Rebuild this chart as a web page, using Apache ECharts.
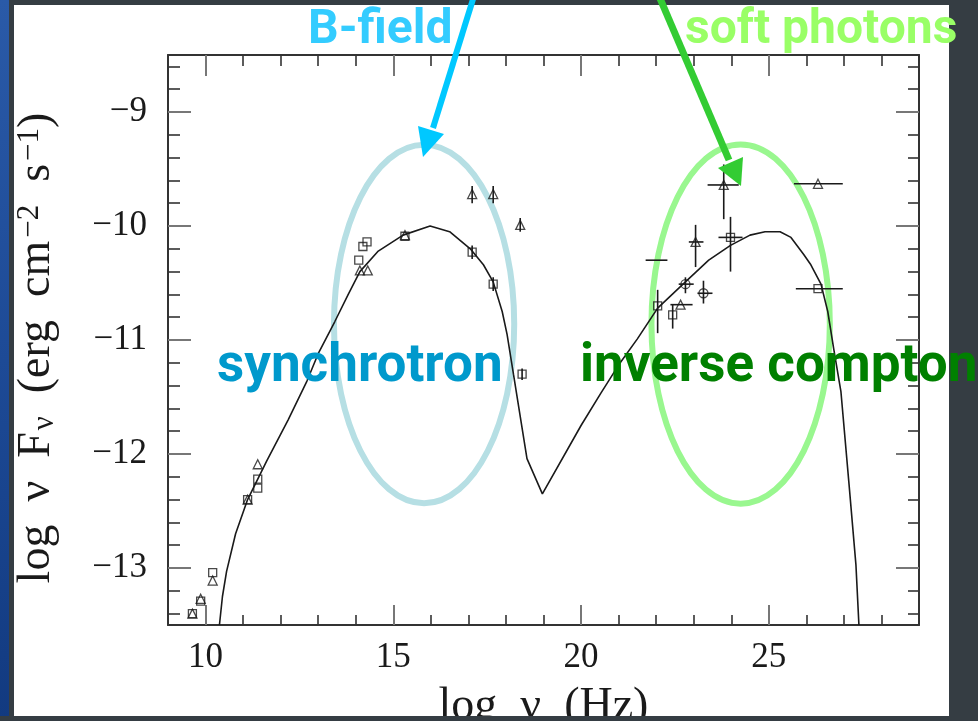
<!DOCTYPE html>
<html><head><meta charset="utf-8">
<script src="https://cdn.jsdelivr.net/npm/echarts@6/dist/echarts.min.js"></script>
<style>
html,body{margin:0;padding:0;width:978px;height:721px;overflow:hidden;background:#353d43;}
#blue{position:absolute;left:0;top:0;width:9px;height:721px;background:linear-gradient(#2a5aa8,#1d4a96 50%,#123a80);}
#panel{position:absolute;left:14px;top:5px;width:935px;height:711px;background:#fff;}
#chart{position:absolute;left:0;top:0;width:978px;height:721px;}
#bottom{position:absolute;left:0;top:716px;width:978px;height:5px;background:#353d43;}
</style></head><body>
<div id="blue"></div><div id="panel"></div><div id="chart"></div><div id="bottom"></div>
<script>
// ---- data ----
var xMajorTicks = [10, 15, 20, 25];
var xMinorTicks = [11, 12, 13, 14, 16, 17, 18, 19, 21, 22, 23, 24, 26, 27, 28];
var yMajorTicks = [-13, -12, -11, -10, -9];
var yMinorTicks = [-13.4, -13.2, -12.8, -12.6, -12.4, -12.2, -11.8, -11.6, -11.4, -11.2,
                   -10.8, -10.6, -10.4, -10.2, -9.8, -9.6, -9.4, -9.2, -8.8, -8.6];

var modelCurve = [
  [10.37, -13.5], [10.45, -13.25], [10.56, -13.03], [10.8, -12.7], [11.12, -12.4],
  [11.63, -12.06], [12.2, -11.7], [12.7, -11.36], [13.0, -11.12], [13.44, -10.84],
  [13.8, -10.6], [14.11, -10.4], [14.6, -10.22], [15.26, -10.08], [15.98, -10.0],
  [16.5, -10.05], [17.05, -10.2], [17.4, -10.34], [17.66, -10.49], [17.9, -10.75],
  [18.03, -10.95], [18.2, -11.3], [18.56, -12.04], [18.97, -12.35], [20.0, -11.75],
  [20.52, -11.47], [21.0, -11.22], [21.5, -10.99], [22.04, -10.72], [22.78, -10.49],
  [23.4, -10.3], [23.98, -10.17], [24.5, -10.08], [24.9, -10.05], [25.3, -10.05],
  [25.59, -10.1], [25.93, -10.25], [26.12, -10.34], [26.39, -10.51], [26.57, -10.75],
  [26.73, -11.08], [26.92, -11.45], [27.13, -12.24], [27.32, -12.97], [27.4, -13.5]
];

var squarePts = [
  [9.65, -13.4], [9.87, -13.29], [10.19, -13.04], [11.12, -12.4], [11.39, -12.22], [11.39, -12.3],
  [14.3, -10.14], [14.19, -10.18], [14.08, -10.3], [15.31, -10.09], [17.1, -10.23], [17.66, -10.51],
  [18.43, -11.3], [22.04, -10.7], [22.44, -10.78], [23.98, -10.1], [26.31, -10.55]
];
var trianglePts = [
  [9.65, -13.4], [9.87, -13.27], [10.19, -13.11], [11.12, -12.4], [11.39, -12.09],
  [14.11, -10.39], [14.32, -10.39], [15.31, -10.08], [17.1, -9.72], [17.66, -9.72], [18.38, -9.99],
  [22.65, -10.69], [23.05, -10.14], [23.8, -9.64], [26.31, -9.63]
];
var circlePts = [[22.78, -10.51], [23.26, -10.59]];

// [x, y, xLow, xHigh]
var errX = [
  [22.04, -10.3, 21.72, 22.3], [22.65, -10.69, 22.38, 22.97], [22.78, -10.51, 22.6, 23.0],
  [23.26, -10.59, 23.1, 23.5], [23.05, -10.14, 22.87, 23.26], [23.8, -9.64, 23.37, 24.2],
  [23.98, -10.1, 23.66, 24.3], [26.31, -9.63, 25.67, 26.97], [26.31, -10.55, 25.72, 26.97]
];
// [x, y, yLow, yHigh]
var errY = [
  [17.1, -10.23, -10.29, -10.17], [17.66, -10.51, -10.57, -10.45], [18.43, -11.3, -11.35, -11.25],
  [17.1, -9.72, -9.8, -9.65], [17.66, -9.72, -9.8, -9.65], [18.38, -9.99, -10.05, -9.93],
  [22.04, -10.7, -10.94, -10.56], [22.44, -10.78, -10.9, -10.69], [22.78, -10.51, -10.59, -10.45],
  [23.26, -10.59, -10.68, -10.48], [23.05, -10.14, -10.36, -9.99], [23.8, -9.64, -9.94, -9.46],
  [23.98, -10.1, -10.4, -9.92]
];
// [cx, cy, rx, ry] in data units
var regionEllipses = [
  [15.82, -10.86, 2.40, 1.572, '#b6dfe4'],
  [24.25, -10.86, 2.375, 1.576, '#99f78f']
];

var SERIF = '"Liberation Serif", "Times New Roman", serif';
var INK = '#1a1a1a';

function fmt(v) { return String(v).replace('-', '\u2212'); }

function xAx(pos, ticks, len, major, extra) {
  var a = {
    type: 'value', min: 9, max: 29, position: pos, gridIndex: 0,
    axisLine: { show: major, onZero: false, lineStyle: { color: '#333', width: 2 } },
    axisTick: { show: true, inside: true, length: len, customValues: ticks,
      lineStyle: { color: major ? '#777' : '#333', width: major ? 2 : 1.6 } },
    axisLabel: { show: false },
    splitLine: { show: false }
  };
  for (var k in extra) a[k] = extra[k];
  return a;
}
function yAx(pos, ticks, len, major, extra) {
  var a = {
    type: 'value', min: -13.5, max: -8.5, position: pos, gridIndex: 0,
    axisLine: { show: major, onZero: false, lineStyle: { color: '#333', width: 2 } },
    axisTick: { show: true, inside: true, length: len, customValues: ticks,
      lineStyle: { color: major ? '#777' : '#333', width: major ? 2 : 1.6 } },
    axisLabel: { show: false },
    splitLine: { show: false }
  };
  for (var k in extra) a[k] = extra[k];
  return a;
}

var chart = echarts.init(document.getElementById('chart'), null, { renderer: 'canvas' });

var option = {
  backgroundColor: 'transparent',
  animation: false,
  grid: { left: 168, top: 55, right: 59, bottom: 96, containLabel: false, outerBoundsMode: 'none' },
  xAxis: [
    xAx('bottom', xMajorTicks, 20, true, {
      axisLabel: { show: true, customValues: xMajorTicks, margin: 15, fontFamily: SERIF, fontSize: 35, color: INK, formatter: fmt },
      name: 'log  ν  (Hz)', nameLocation: 'middle', nameGap: 59,
      nameTextStyle: { fontFamily: SERIF, fontSize: 46, color: INK }
    }),
    xAx('bottom', xMinorTicks, 10, false, {}),
    xAx('top', xMajorTicks, 21, true, {}),
    xAx('top', xMinorTicks, 11, false, {})
  ],
  yAxis: [
    yAx('left', yMajorTicks, 23, true, {
      axisLabel: { show: true, customValues: yMajorTicks, margin: 21, fontFamily: SERIF, fontSize: 35, color: INK, formatter: fmt },
      name: '{t|log  ν  F}{s|ν}{t|  (erg  cm}{p|−2}{t|  s}{p|−1}{t|)}',
      nameLocation: 'middle', nameRotate: 90, nameGap: 108,
      nameTextStyle: {
        fontFamily: SERIF, fontSize: 46, color: INK, padding: [0, 16, 0, 0],
        rich: {
          t: { fontFamily: SERIF, fontSize: 46, color: INK },
          s: { fontFamily: SERIF, fontSize: 31, color: INK, verticalAlign: 'bottom', padding: [15, 0, 0, 2] },
          p: { fontFamily: SERIF, fontSize: 31, color: INK, verticalAlign: 'top', padding: [0, 0, 15, 3] }
        }
      }
    }),
    yAx('left', yMinorTicks, 12, false, {}),
    yAx('right', yMajorTicks, 23, true, {}),
    yAx('right', yMinorTicks, 11, false, {})
  ],
  series: [
    {
      name: 'regions', type: 'custom', coordinateSystem: 'cartesian2d', z: 1, clip: false,
      data: regionEllipses,
      renderItem: function (params, api) {
        var c = api.coord([api.value(0), api.value(1)]);
        var s = api.size([api.value(2), api.value(3)]);
        return { type: 'ellipse', shape: { cx: c[0], cy: c[1], rx: s[0], ry: s[1] },
          style: { fill: 'none', stroke: regionEllipses[params.dataIndex][4], lineWidth: 6 } };
      }
    },
    {
      name: 'model', type: 'line', data: modelCurve, symbol: 'none', z: 3,
      lineStyle: { color: INK, width: 1.6 }
    },
    {
      name: 'xerr', type: 'custom', coordinateSystem: 'cartesian2d', z: 4, data: errX,
      renderItem: function (params, api) {
        var a = api.coord([api.value(2), api.value(1)]);
        var b = api.coord([api.value(3), api.value(1)]);
        return { type: 'line', shape: { x1: a[0], y1: a[1], x2: b[0], y2: b[1] }, style: { stroke: INK, lineWidth: 1.6 } };
      }
    },
    {
      name: 'yerr', type: 'custom', coordinateSystem: 'cartesian2d', z: 4, data: errY,
      renderItem: function (params, api) {
        var a = api.coord([api.value(0), api.value(2)]);
        var b = api.coord([api.value(0), api.value(3)]);
        return { type: 'line', shape: { x1: a[0], y1: a[1], x2: b[0], y2: b[1] }, style: { stroke: INK, lineWidth: 1.6 } };
      }
    },
    {
      name: 'squares', type: 'scatter', data: squarePts, symbol: 'rect', symbolSize: 8, z: 5,
      itemStyle: { color: 'rgba(0,0,0,0)', borderColor: INK, borderWidth: 1.3 }
    },
    {
      name: 'triangles', type: 'scatter', data: trianglePts, symbol: 'triangle', symbolSize: 9, z: 5,
      itemStyle: { color: 'rgba(0,0,0,0)', borderColor: INK, borderWidth: 1.3 }
    },
    {
      name: 'circles', type: 'scatter', data: circlePts, symbol: 'circle', symbolSize: 9, z: 5,
      itemStyle: { color: 'rgba(0,0,0,0)', borderColor: INK, borderWidth: 1.3 }
    }
  ],
  graphic: [
    { type: 'line', z: 100, shape: { x1: 474, y1: -4, x2: 433, y2: 128 }, style: { stroke: '#00c8ff', lineWidth: 6 } },
    { type: 'polygon', z: 100, shape: { points: [[423, 157], [418, 126], [444, 134]] }, style: { fill: '#00c8ff' } },
    { type: 'line', z: 100, shape: { x1: 659, y1: -4, x2: 729, y2: 160 }, style: { stroke: '#33cc33', lineWidth: 7 } },
    { type: 'polygon', z: 100, shape: { points: [[741, 186], [718, 168], [743, 157]] }, style: { fill: '#33cc33' } },
    { type: 'text', z: 101, style: { text: 'B-field', x: 308, y: 55, font: 'bold 48px Roboto', fill: '#33ccff', textVerticalAlign: 'bottom' } },
    { type: 'text', z: 101, style: { text: 'soft photons', x: 685, y: 55, font: 'bold 48px Roboto', fill: '#99ff66', textVerticalAlign: 'bottom' } },
    { type: 'text', z: 101, style: { text: 'synchrotron', x: 217, y: 394, font: 'bold 53px Roboto', fill: '#0099cc', textVerticalAlign: 'bottom' } },
    { type: 'text', z: 101, style: { text: 'inverse compton', x: 580, y: 394, font: 'bold 53px Roboto', fill: '#008000', textVerticalAlign: 'bottom' } }
  ]
};
chart.setOption(option);
</script>
</body></html>
